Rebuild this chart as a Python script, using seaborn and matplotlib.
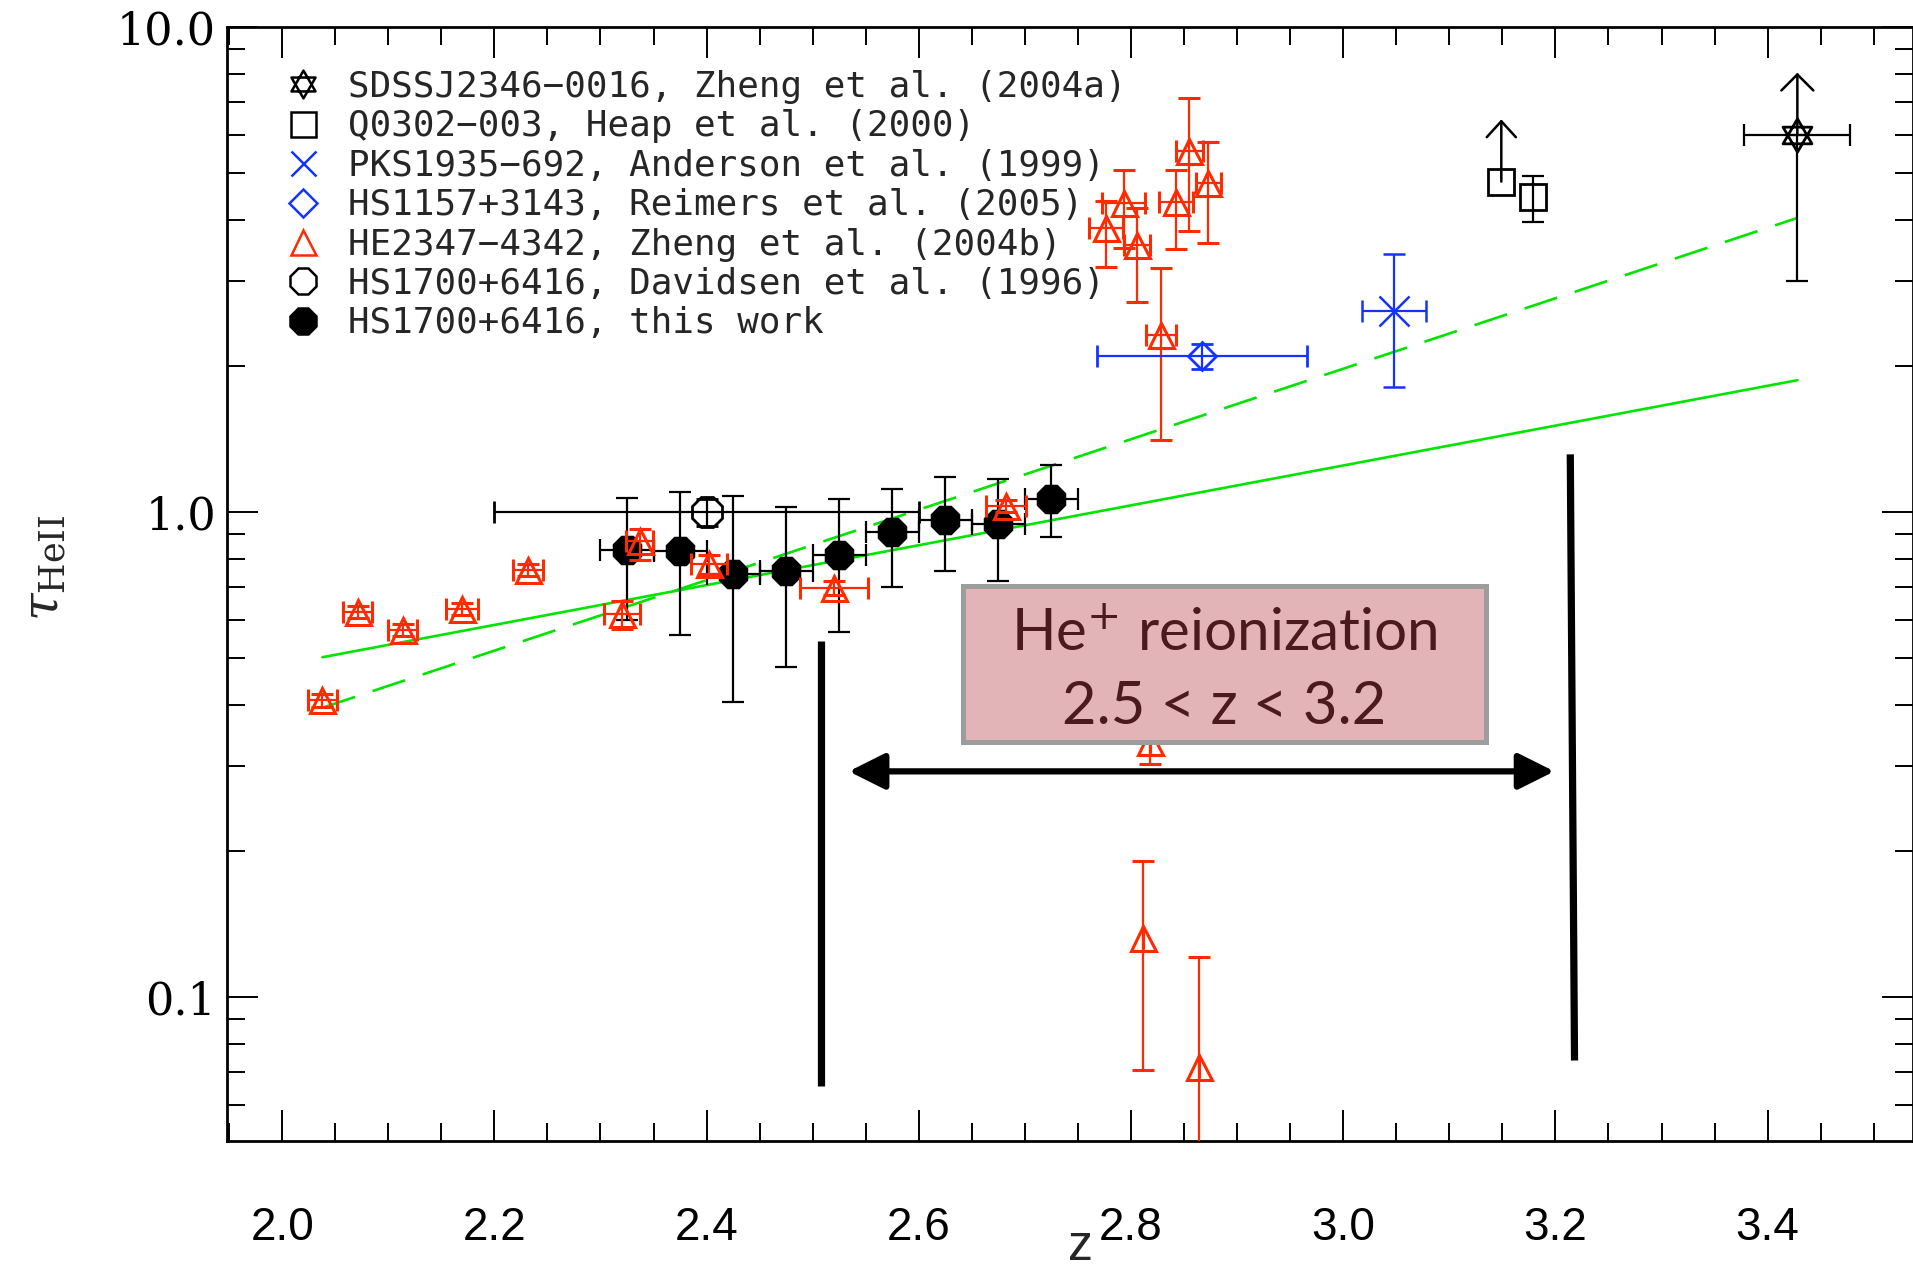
import numpy as np
import pandas as pd
import matplotlib
matplotlib.use("Agg")
import matplotlib.pyplot as plt
from matplotlib.path import Path
from matplotlib.lines import Line2D
from matplotlib.patches import Rectangle
from matplotlib.ticker import FixedLocator, MultipleLocator, NullFormatter
import seaborn as sns

# ---------------- data ----------------
# HS1700+6416, this work
this_z = [2.325, 2.375, 2.425, 2.475, 2.525, 2.575, 2.625, 2.675, 2.725]
this_tau = [0.835, 0.83, 0.745, 0.755, 0.815, 0.908, 0.965, 0.946, 1.066]
this_lo = [0.60, 0.557, 0.405, 0.48, 0.565, 0.70, 0.755, 0.72, 0.887]
this_hi = [1.07, 1.10, 1.08, 1.025, 1.063, 1.118, 1.18, 1.17, 1.25]
this_zerr = [0.025] * 9

# HS1700+6416, Davidsen et al. (1996)
dav_z = [2.40]
dav_tau = [1.0]
dav_lo = [0.935]
dav_hi = [1.065]
dav_zerr = [0.20]

# HE2347-4342, Zheng et al. (2004b)
zb_z = [2.038, 2.071, 2.1135, 2.1695, 2.232, 2.3205, 2.337, 2.4025, 2.520, 2.682,
        2.7765, 2.793, 2.8055, 2.8285, 2.842, 2.855, 2.873, 2.8175, 2.811, 2.8645]
zb_tau = [0.409, 0.622, 0.571, 0.631, 0.758, 0.615, 0.871, 0.780, 0.698, 1.03,
          3.85, 4.34, 3.55, 2.32, 4.36, 5.55, 4.77, 0.335, 0.1325, 0.0717]
zb_lo = [0.397, 0.604, 0.555, 0.613, 0.737, 0.573, 0.796, 0.745, 0.675, 1.0,
         3.20, 3.51, 2.71, 1.405, 3.49, 3.80, 3.59, 0.302, 0.0709, 0.01]
zb_hi = [0.421, 0.640, 0.588, 0.650, 0.780, 0.655, 0.924, 0.815, 0.722, 1.06,
         4.38, 5.08, 4.24, 3.19, 5.08, 7.15, 5.79, 0.362, 0.1906, 0.121]
zb_zerr = [0.0135, 0.0135, 0.0135, 0.015, 0.014, 0.017, 0.0125, 0.017, 0.032, 0.019,
           0.016, 0.02, 0.012, 0.014, 0.016, 0.013, 0.012, 0.0, 0.0, 0.0]

# PKS1935-692, Anderson et al. (1999)
pks_z = [3.048]
pks_tau = [2.60]
pks_lo = [1.81]
pks_hi = [3.40]
pks_zerr = [0.03]

# HS1157+3143, Reimers et al. (2005)
hs_z = [2.867]
hs_tau = [2.10]
hs_lo = [1.97]
hs_hi = [2.22]
hs_zerr = [0.099]

# Q0302-003, Heap et al. (2000)
q_z = [3.149, 3.179]
q_tau = [4.80, 4.46]
q_lo = [4.80, 3.97]
q_hi = [4.80, 4.94]
q_limit_z = [3.149]
q_limit_from = [4.80]
q_limit_to = [6.45]

# SDSSJ2346-0016, Zheng et al. (2004a)
sd_z = [3.428]
sd_tau = [5.98]
sd_lo = [3.0]
sd_zerr = [0.05]
sd_limit_to = [8.05]

# fits
fit_z = [2.038, 3.428]
fit_solid_tau = [0.502, 1.87]
fit_dashed_tau = [0.395, 4.04]

# reionization annotation
reion_left_z = [2.508, 2.508]
reion_left_tau = [0.542, 0.0657]
reion_right_z = [3.214, 3.218]
reion_right_tau = [1.315, 0.074]
arrow_z = [2.534, 3.199]
arrow_tau = 0.292

legend_labels = [
    "SDSSJ2346\u22120016, Zheng et al. (2004a)",
    "Q0302\u2212003, Heap et al. (2000)",
    "PKS1935\u2212692, Anderson et al. (1999)",
    "HS1157+3143, Reimers et al. (2005)",
    "HE2347\u22124342, Zheng et al. (2004b)",
    "HS1700+6416, Davidsen et al. (1996)",
    "HS1700+6416, this work",
]
xtick_vals = [2.0, 2.2, 2.4, 2.6, 2.8, 3.0, 3.2, 3.4]
ytick_vals = [0.1, 1.0, 10.0]
ytick_labels = ["0.1", "1.0", "10.0"]

# ---------------- style ----------------
sns.set_style("ticks")
plt.rcParams["font.family"] = ["DejaVu Sans Mono", "DejaVu Sans"]
plt.rcParams["mathtext.fontset"] = "dejavuserif"

RED = "#ff2a00"
BLUE = "#1433ff"
GREEN = "#00e400"

fig = plt.figure(figsize=(19.13, 12.70), dpi=100)
ax = fig.add_axes([0.11866, 0.10157, 0.88134, 0.87717])
ax.set_yscale("log")
ax.set_xlim(1.948, 3.537)
ax.set_ylim(0.0505, 10.0)

hex_verts = [(0, 1), (-0.866, -0.5), (0.866, -0.5), (0, 1),
             (0, -1), (-0.866, 0.5), (0.866, 0.5), (0, -1)]
hex_codes = [Path.MOVETO, Path.LINETO, Path.LINETO, Path.CLOSEPOLY] * 2
hexagram = Path(hex_verts, hex_codes)


def yerr_of(tau, lo, hi):
    tau = np.asarray(tau, float)
    return np.vstack([tau - np.asarray(lo, float), np.asarray(hi, float) - tau])


# fit lines
sns.lineplot(x=fit_z, y=fit_solid_tau, ax=ax, color=GREEN, lw=1.9, sort=False, zorder=1)
sns.lineplot(x=fit_z, y=fit_dashed_tau, ax=ax, color=GREEN, lw=1.9, sort=False,
             dashes=False, zorder=1)
ax.lines[-1].set_dashes((13, 7))

ekw = dict(elinewidth=1.6, capsize=8, capthick=1.6)

# this work
ax.errorbar(this_z, this_tau, yerr=yerr_of(this_tau, this_lo, this_hi), xerr=this_zerr,
            fmt="none", ecolor="black", zorder=3, **ekw)
df_this = pd.DataFrame({"z": this_z, "tau": this_tau})
sns.scatterplot(data=df_this, x="z", y="tau", ax=ax, marker="8", s=23 ** 2,
                color="black", edgecolor="black", linewidth=0, zorder=4)

# Davidsen
ax.errorbar(dav_z, dav_tau, yerr=yerr_of(dav_tau, dav_lo, dav_hi), xerr=dav_zerr,
            fmt="8", ms=23, mfc="none", mec="black", mew=2.0, ecolor="black",
            color="black", zorder=3, **ekw)

# Zheng 2004b
ax.errorbar(zb_z, zb_tau, yerr=yerr_of(zb_tau, zb_lo, zb_hi), xerr=zb_zerr,
            fmt="^", ms=18, mfc="none", mec=RED, mew=2.2, ecolor=RED, color=RED,
            zorder=5, **ekw)

# PKS1935
ax.errorbar(pks_z, pks_tau, yerr=yerr_of(pks_tau, pks_lo, pks_hi), xerr=pks_zerr,
            fmt="x", ms=21, mec=BLUE, mew=1.8, ecolor=BLUE, color=BLUE, zorder=5, **ekw)

# HS1157
ax.errorbar(hs_z, hs_tau, yerr=yerr_of(hs_tau, hs_lo, hs_hi), xerr=hs_zerr,
            fmt="D", ms=14, mfc="none", mec=BLUE, mew=2.0, ecolor=BLUE, color=BLUE,
            zorder=5, **ekw)

# Q0302
ax.errorbar(q_z[1:], q_tau[1:], yerr=yerr_of(q_tau[1:], q_lo[1:], q_hi[1:]),
            fmt="none", ecolor="black", zorder=5, **ekw)
ax.plot(q_z, q_tau, ls="none", marker="s", ms=19, mfc="none", mec="black", mew=2.0, zorder=5)
for zz, t0, t1 in zip(q_limit_z, q_limit_from, q_limit_to):
    ax.annotate("", xy=(zz, t1), xytext=(zz, t0),
                arrowprops=dict(arrowstyle="->,head_length=11.5,head_width=10.5",
                                mutation_scale=1, lw=1.8, color="black",
                                shrinkA=0, shrinkB=0), zorder=5)

# SDSSJ2346
ax.errorbar(sd_z, sd_tau, yerr=[np.subtract(sd_tau, sd_lo), [0.0]], xerr=sd_zerr,
            fmt="none", ecolor="black", zorder=5, **ekw)
ax.plot(sd_z, sd_tau, ls="none", marker=hexagram, ms=24, mfc="none", mec="black",
        mew=2.0, zorder=6)
for zz, t0, t1 in zip(sd_z, sd_tau, sd_limit_to):
    ax.annotate("", xy=(zz, t1), xytext=(zz, t0),
                arrowprops=dict(arrowstyle="->,head_length=11.5,head_width=11.5",
                                mutation_scale=1, lw=1.8, color="black",
                                shrinkA=0, shrinkB=0), zorder=5)

# reionization annotation
ax.plot(reion_left_z, reion_left_tau, color="black", lw=5.2, solid_capstyle="butt", zorder=6)
ax.plot(reion_right_z, reion_right_tau, color="black", lw=5.2, solid_capstyle="butt", zorder=6)
ax.annotate("", xy=(arrow_z[1], arrow_tau), xytext=(arrow_z[0], arrow_tau),
            arrowprops=dict(arrowstyle="<|-|>,head_length=22,head_width=11",
                            mutation_scale=1, lw=4.5, color="black",
                            shrinkA=0, shrinkB=0), zorder=6)

box = Rectangle((0.4365, 0.358), 0.3102, 0.1405, transform=ax.transAxes,
                facecolor="#e2b4b8", edgecolor="#9d9d9d", lw=3.6, zorder=7)
ax.add_patch(box)
ax.text(0.5916, 0.4400, "He$^{+}$ reionization", transform=ax.transAxes, ha="center",
        va="baseline", fontsize=42, family=["Lato", "DejaVu Sans"], color="#4a1a1f", zorder=8)
ax.text(0.5916, 0.3745, "2.5 < z < 3.2", transform=ax.transAxes, ha="center",
        va="baseline", fontsize=43, family=["Lato", "DejaVu Sans"], color="#4a1a1f", zorder=8)

# legend
handles = [
    Line2D([], [], ls="none", marker=hexagram, ms=20, mfc="none", mec="black", mew=1.8),
    Line2D([], [], ls="none", marker="s", ms=18, mfc="none", mec="black", mew=1.8),
    Line2D([], [], ls="none", marker="x", ms=18, mec=BLUE, mew=1.8),
    Line2D([], [], ls="none", marker="D", ms=14, mfc="none", mec=BLUE, mew=1.8),
    Line2D([], [], ls="none", marker="^", ms=18, mfc="none", mec=RED, mew=1.8),
    Line2D([], [], ls="none", marker="8", ms=20, mfc="none", mec="black", mew=1.8),
    Line2D([], [], ls="none", marker="8", ms=20, mfc="black", mec="black", mew=1.8),
]
leg = ax.legend(handles, legend_labels, loc="upper left", bbox_to_anchor=(0.0347, 0.9614),
                frameon=False, borderpad=0, borderaxespad=0, handlelength=1.0,
                handletextpad=0.75, labelspacing=0.15, numpoints=1,
                prop={"family": "DejaVu Sans Mono", "size": 25.8})

# axes, ticks
for sp in ax.spines.values():
    sp.set_visible(True)
    sp.set_linewidth(2.0)
    sp.set_color("black")

ax.xaxis.set_major_locator(FixedLocator(xtick_vals))
ax.xaxis.set_minor_locator(MultipleLocator(0.05))
ax.set_xticklabels([f"{v:.1f}" for v in xtick_vals], fontsize=33,
                   family=["Liberation Sans", "DejaVu Sans"])
ax.yaxis.set_major_locator(FixedLocator(ytick_vals))
minor_y = [m * 10.0 ** e for e in (-2, -1, 0) for m in range(2, 10)]
ax.yaxis.set_minor_locator(FixedLocator(minor_y))
ax.yaxis.set_minor_formatter(NullFormatter())
ax.set_yticklabels(ytick_labels, fontsize=32, family="DejaVu Serif")

ax.tick_params(which="both", direction="in", top=True, right=True, width=1.4,
               color="black", labelcolor="black")
ax.tick_params(which="major", length=22)
ax.tick_params(which="minor", length=13)
ax.tick_params(axis="x", which="major", pad=47)
ax.tick_params(axis="y", which="major", pad=8)

ax.set_xlabel("z", fontsize=36, family=["Liberation Sans", "DejaVu Sans"], va="baseline")
ax.xaxis.set_label_coords(0.506, -0.1066)
ax.set_ylabel(r"$\tau_{\rm HeII}$", fontsize=36)
ax.yaxis.set_label_coords(-0.094, 0.515)

fig.savefig("out.png", dpi=100)
